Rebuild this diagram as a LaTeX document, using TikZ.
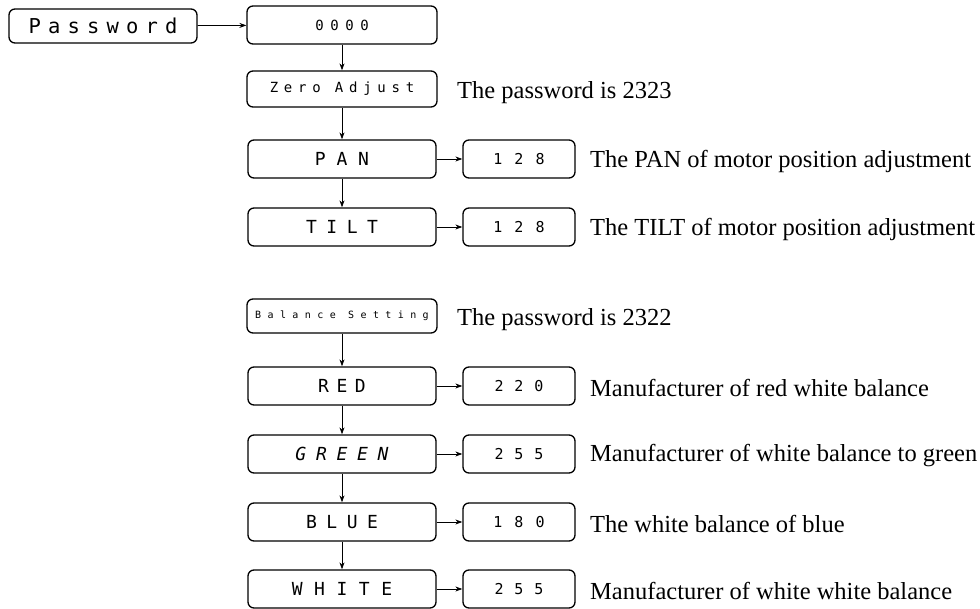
\documentclass[tikz,border=0pt]{standalone}
\usepackage{fontspec}
\setmainfont{Liberation Serif}
\newfontfamily\lcdfont{DejaVu Sans Mono}
\usetikzlibrary{arrows.meta}
\newcommand{\lcdtext}[3]{{\lcdfont\fontsize{#1}{#1}\selectfont\addfontfeature{LetterSpace=#2}#3}}
\tikzset{
  lcdbox/.style={draw, line width=1.3pt, rounded corners=6pt, minimum width=188pt, minimum height=38pt, inner sep=0pt},
  valbox/.style={draw, line width=1.3pt, rounded corners=6pt, minimum width=112pt, minimum height=38pt, inner sep=0pt},
  desc/.style={anchor=west, inner sep=0pt, font=\fontsize{24.5}{26}\selectfont},
  conn/.style={line width=0.8pt, -{Stealth[length=7pt,width=5pt]}}
}
\begin{document}
\begin{tikzpicture}[x=1pt,y=-1pt]
\useasboundingbox (0,0) rectangle (980,609);
% top group
\node[lcdbox, minimum width=188pt, minimum height=34pt] (pw) at (103,26) {\lcdtext{20.5}{35}{Password}};
\node[lcdbox, minimum width=190pt] (code) at (342,25) {\lcdtext{14}{47}{0000}};
\node[lcdbox, minimum width=190pt, minimum height=36pt] (zero) at (342,89) {\lcdtext{14}{41}{Zero Adjust}};
\node[lcdbox] (pan) at (342,159) {\lcdtext{18}{60}{PAN}};
\node[lcdbox] (tilt) at (342,227) {\lcdtext{18}{53}{TILT}};
\node[valbox] (panv) at (519,159) {\lcdtext{15}{80}{128}};
\node[valbox] (tiltv) at (519,227) {\lcdtext{15}{80}{128}};
\node[desc] (zerot) at (457,93) {The password is 2323};
\node[desc] (pant) at (590,161) {The PAN of motor position adjustment};
\node[desc] (tiltt) at (590,229) {The TILT of motor position adjustment};
% balance group
\node[lcdbox, minimum width=190pt, minimum height=34pt] (bal) at (342,316) {\lcdtext{10}{64}{Balance Setting}};
\node[lcdbox] (red) at (342,386) {\lcdtext{18}{42}{RED}};
\node[lcdbox] (green) at (342,454) {\lcdtext{18}{54}{\itshape GREEN}};
\node[lcdbox] (blue) at (342,522) {\lcdtext{18}{53}{BLUE}};
\node[lcdbox] (white) at (342,589) {\lcdtext{18}{64}{WHITE}};
\node[valbox] (redv) at (519,386) {\lcdtext{15}{72}{220}};
\node[valbox] (greenv) at (519,454) {\lcdtext{15}{72}{255}};
\node[valbox] (bluev) at (519,522) {\lcdtext{15}{80}{180}};
\node[valbox] (whitev) at (519,589) {\lcdtext{15}{72}{255}};
\node[desc] (balt) at (457,320) {The password is 2322};
\node[desc] (redt) at (590,388) {Manufacturer of red white balance};
\node[desc] (greent) at (590,456) {Manufacturer of white balance to green};
\node[desc] (bluet) at (590,524) {The white balance of blue};
\node[desc] (whitet) at (590,591) {Manufacturer of white white balance};
% connectors
\draw[conn] (pw) -- (code);
\draw[conn] (code) -- (zero);
\draw[conn] (zero) -- (pan);
\draw[conn] (pan) -- (tilt);
\draw[conn] (pan) -- (panv);
\draw[conn] (tilt) -- (tiltv);
\draw[conn] (bal) -- (red);
\draw[conn] (red) -- (green);
\draw[conn] (green) -- (blue);
\draw[conn] (blue) -- (white);
\draw[conn] (red) -- (redv);
\draw[conn] (green) -- (greenv);
\draw[conn] (blue) -- (bluev);
\draw[conn] (white) -- (whitev);
\end{tikzpicture}
\end{document}
